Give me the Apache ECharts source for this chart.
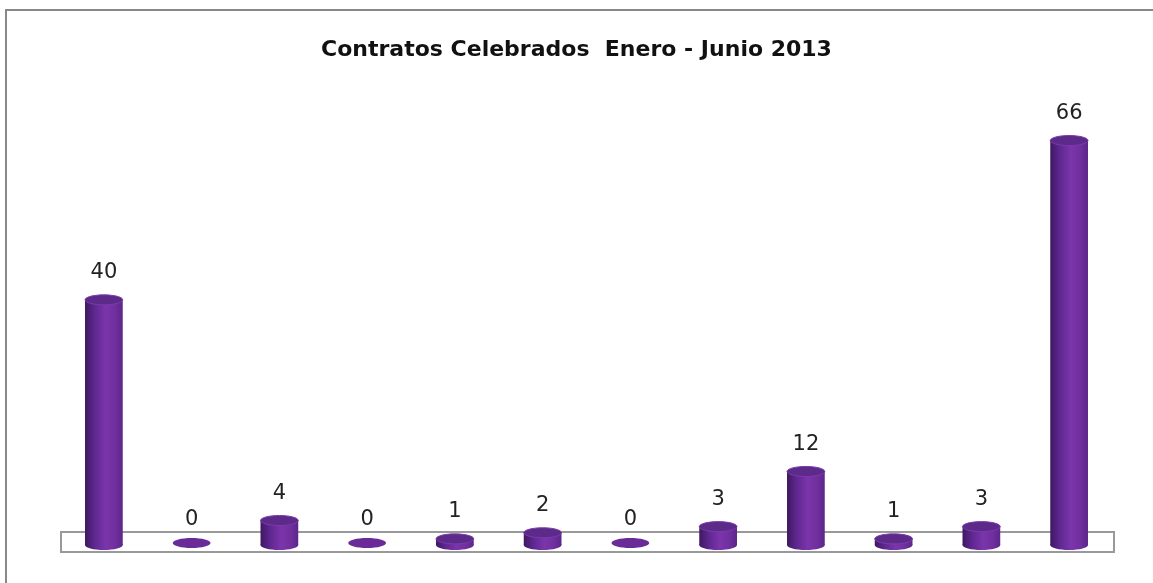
<!DOCTYPE html>
<html>
<head>
<meta charset="utf-8">
<script src="https://cdn.jsdelivr.net/npm/echarts@6/dist/echarts.min.js"></script>
<style>html,body{margin:0;padding:0;background:#fff}#c{width:1153px;height:583px}</style>
</head>
<body>
<div id="c"></div>
<script>
var categories = ['1','2','3','4','5','6','7','8','9','10','11','12'];
var values = [40, 0, 4, 0, 1, 2, 0, 3, 12, 1, 3, 66];
var titleText = 'Contratos Celebrados  Enero - Junio 2013';

var chart = echarts.init(document.getElementById('c'));
var bodyGrad = new echarts.graphic.LinearGradient(0, 0, 1, 0, [
  {offset: 0, color: '#3f1860'},
  {offset: 0.25, color: '#5e2790'},
  {offset: 0.55, color: '#7b35ab'},
  {offset: 0.8, color: '#702f9e'},
  {offset: 1, color: '#5c2689'}
]);
function renderItem(params, api) {
  var v = api.value(1);
  var top = api.coord([api.value(0), v]);
  var base = api.coord([api.value(0), 0]);
  var bw = api.size([1, 0])[0] * 0.43;
  var rx = bw / 2, ry = 5;
  var cx = top[0];
  var children = [];
  if (v > 0) {
    children.push({type: 'ellipse', shape: {cx: cx, cy: base[1], rx: rx, ry: ry}, style: {fill: bodyGrad}});
    children.push({type: 'rect', shape: {x: cx - rx, y: top[1], width: bw, height: base[1] - top[1]}, style: {fill: bodyGrad}});
    children.push({type: 'ellipse', shape: {cx: cx, cy: top[1], rx: rx, ry: ry}, style: {fill: '#5c2a88', stroke: '#7c3aac', lineWidth: 1}});
  } else {
    children.push({type: 'ellipse', shape: {cx: cx, cy: base[1] - 2, rx: rx, ry: ry}, style: {fill: '#6a2b98'}});
  }
  children.push({type: 'text', style: {text: String(v), x: cx, y: top[1] - (v > 0 ? 27 : 25), align: 'center', verticalAlign: 'middle', fill: '#222', font: '21px "DejaVu Sans", sans-serif'}});
  return {type: 'group', children: children};
}
chart.setOption({
  animation: false,
  title: {text: titleText, left: 'center', top: 34, textStyle: {fontFamily: '"DejaVu Sans", sans-serif', fontWeight: 'bold', fontSize: 22, color: '#111'}},
  grid: {left: 60, right: 40, top: 116, bottom: 38},
  xAxis: {type: 'category', data: categories, show: false},
  yAxis: {type: 'value', min: 0, max: 70, show: false},
  graphic: [
    {type: 'rect', shape: {x: 6, y: 10, width: 1200, height: 620}, style: {fill: 'none', stroke: '#888', lineWidth: 2}, z: -1},
    {type: 'rect', shape: {x: 61, y: 532, width: 1053, height: 20}, style: {fill: '#fff', stroke: '#999', lineWidth: 2}, z: 0}
  ],
  series: [{
    type: 'custom',
    renderItem: renderItem,
    data: values.map(function (v, i) { return [i, v]; }),
    encode: {x: 0, y: 1},
    z: 5
  }]
});
</script>
</body>
</html>
